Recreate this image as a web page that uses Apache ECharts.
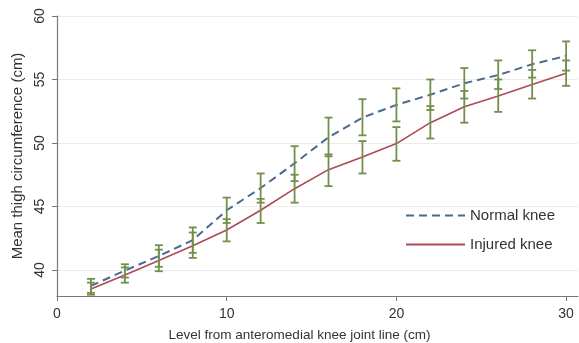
<!DOCTYPE html>
<html>
<head>
<meta charset="utf-8">
<script src="https://cdn.jsdelivr.net/npm/echarts@6/dist/echarts.min.js"></script>
<style>
  html, body { margin: 0; padding: 0; background: #fff; }
  #chart { width: 579px; height: 343px; }
</style>
</head>
<body>
<div id="chart"></div>
<script>
// data
var levels = [2, 4, 6, 8, 10, 12, 14, 16, 18, 20, 22, 24, 26, 28, 30];

var normalMean = [38.75, 39.95, 41.1, 42.35, 44.7, 46.45, 48.4, 50.45, 52.0, 53.0, 53.8, 54.7, 55.35, 56.2, 56.85];
var normalHigh = [39.3, 40.45, 41.95, 43.35, 45.7, 47.6, 49.75, 52.0, 53.45, 54.3, 55.0, 55.9, 56.5, 57.3, 58.0];
var normalLow  = [38.2, 39.4, 40.25, 41.35, 43.7, 45.3, 47.0, 48.95, 50.6, 51.7, 52.6, 53.5, 54.25, 55.15, 55.7];

var injuredMean = [38.5, 39.6, 40.75, 41.9, 43.15, 44.7, 46.4, 47.9, 48.9, 49.95, 51.6, 52.85, 53.7, 54.6, 55.5];
var injuredHigh = [39.0, 40.2, 41.6, 42.95, 44.0, 45.6, 47.5, 49.1, 50.15, 51.25, 52.9, 54.1, 55.0, 55.75, 56.5];
var injuredLow  = [38.05, 39.0, 39.9, 40.95, 42.25, 43.7, 45.3, 46.6, 47.6, 48.6, 50.35, 51.6, 52.45, 53.5, 54.5];

var xTicks = [0, 10, 20, 30];
var yTicks = [40, 45, 50, 55, 60];

var chart = echarts.init(document.getElementById('chart'), null, { renderer: 'canvas' });

function pairs(ys) {
  return levels.map(function (x, i) { return [x, ys[i]]; });
}
function bars(lo, hi) {
  return levels.map(function (x, i) { return [x, lo[i], hi[i]]; });
}

// error bar with caps
function renderBar(params, api) {
  var top = api.coord([api.value(0), api.value(2)]);
  var bot = api.coord([api.value(0), api.value(1)]);
  var half = 4;
  var style = { stroke: '#728f4c', lineWidth: 1.8 };
  return {
    type: 'group',
    children: [
      { type: 'line', shape: { x1: top[0], y1: top[1], x2: bot[0], y2: bot[1] }, style: style },
      { type: 'line', shape: { x1: top[0] - half, y1: top[1], x2: top[0] + half, y2: top[1] }, style: style },
      { type: 'line', shape: { x1: bot[0] - half, y1: bot[1], x2: bot[0] + half, y2: bot[1] }, style: style }
    ]
  };
}

var txt = '#333';
var font = 'Liberation Sans, Arial, sans-serif';

var option = {
  backgroundColor: '#fff',
  animation: false,
  textStyle: { fontFamily: font },
  grid: { left: 57, right: 1, top: 16, bottom: 47, outerBoundsMode: 'none', containLabel: false },
  legend: {
    orient: 'vertical',
    left: 405,
    top: 208,
    padding: 0,
    itemWidth: 59,
    itemHeight: 14,
    itemGap: 14,
    itemStyle: { opacity: 0 },
    textStyle: { fontSize: 15, color: txt, fontFamily: font },
    data: ['Normal knee', 'Injured knee']
  },
  xAxis: {
    type: 'value',
    min: 0,
    max: 30.7,
    name: 'Level from anteromedial knee joint line (cm)',
    nameLocation: 'middle',
    nameGap: 32,
    nameTextStyle: { fontSize: 13.5, color: txt, padding: [0, 36, 0, 0] },
    axisLine: { lineStyle: { color: '#777', width: 1.2 } },
    axisTick: { customValues: xTicks, length: 5, lineStyle: { color: '#777' } },
    axisLabel: { customValues: xTicks, fontSize: 14, color: txt, margin: 11 },
    splitLine: { show: false }
  },
  yAxis: {
    type: 'value',
    min: 37.95,
    max: 60,
    name: 'Mean thigh circumference (cm)',
    nameLocation: 'middle',
    nameGap: 28,
    nameTextStyle: { fontSize: 15, color: txt },
    axisLine: { show: true, lineStyle: { color: '#777', width: 1.2 } },
    axisTick: { show: true, customValues: yTicks, length: 5, lineStyle: { color: '#777' } },
    axisLabel: { customValues: yTicks, fontSize: 14, color: txt, rotate: 90, margin: 10 },
    splitLine: { show: true, lineStyle: { color: '#ececec', width: 1 } }
  },
  series: [
    {
      name: 'Normal knee',
      type: 'line',
      data: pairs(normalMean),
      symbol: 'none',
      lineStyle: { color: '#4a6a8e', width: 2, type: [8, 5] },
      itemStyle: { color: '#4a6a8e' },
      z: 2
    },
    {
      name: 'Injured knee',
      type: 'line',
      data: pairs(injuredMean),
      symbol: 'none',
      lineStyle: { color: '#ad4a55', width: 1.6 },
      itemStyle: { color: '#ad4a55' },
      z: 2
    },
    {
      type: 'custom',
      renderItem: renderBar,
      data: bars(normalLow, normalHigh),
      encode: { x: 0, y: [1, 2] },
      z: 3
    },
    {
      type: 'custom',
      renderItem: renderBar,
      data: bars(injuredLow, injuredHigh),
      encode: { x: 0, y: [1, 2] },
      z: 3
    }
  ]
};

chart.setOption(option);
</script>
</body>
</html>
